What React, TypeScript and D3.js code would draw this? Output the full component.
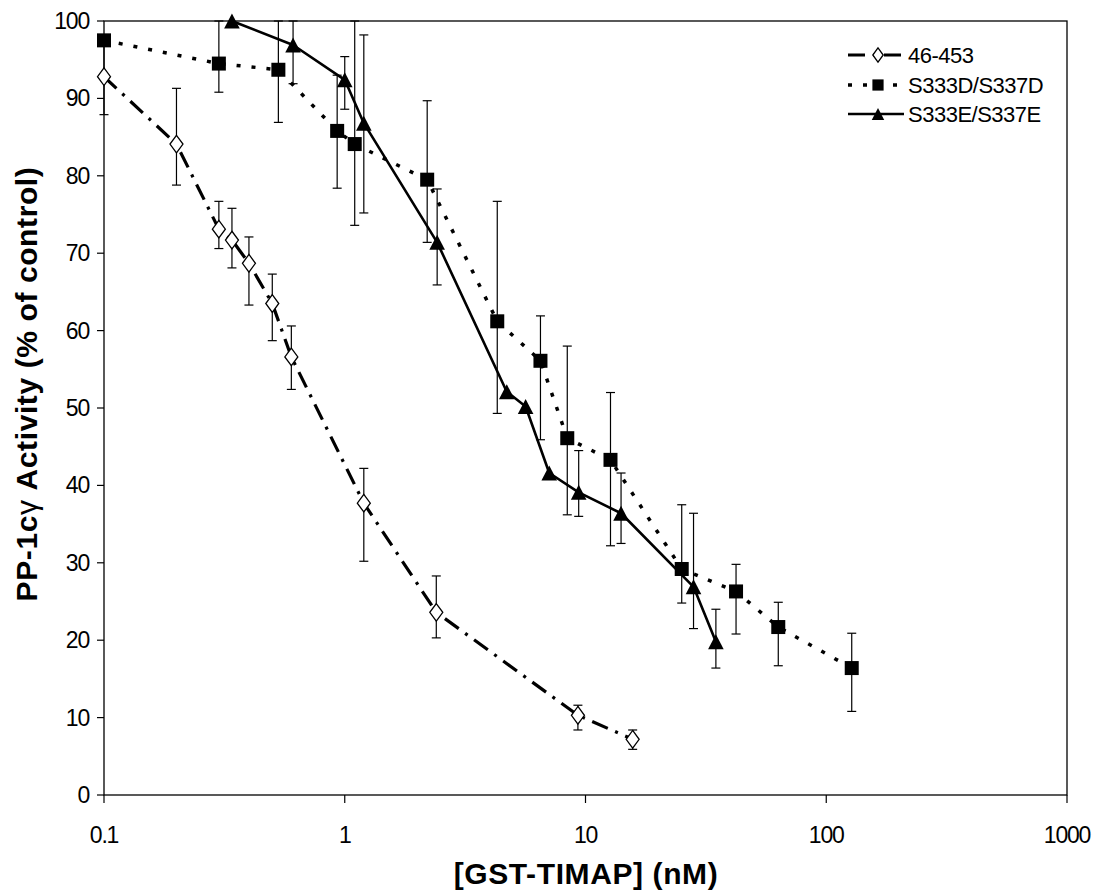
import React from "react";
import * as d3 from "d3";

// ---- data ----
const xTicks = [0.1, 1, 10, 100, 1000];
const xTickLabels = ["0.1", "1", "10", "100", "1000"];
const yTicks = [0, 10, 20, 30, 40, 50, 60, 70, 80, 90, 100];

const seriesNames = ["46-453", "S333D/S337D", "S333E/S337E"];

// 46-453 (open diamonds)
const wtX = [0.1, 0.2, 0.3, 0.34, 0.4, 0.5, 0.6, 1.2, 2.4, 9.3, 15.7];
const wtY = [92.8, 84.1, 73.1, 71.7, 68.7, 63.5, 56.6, 37.7, 23.6, 10.3, 7.2];
const wtHi = [97.7, 91.3, 76.7, 75.8, 72.1, 67.3, 60.6, 42.2, 28.3, 11.6, 8.4];
const wtLo = [87.9, 78.8, 70.6, 68.1, 63.3, 58.7, 52.4, 30.2, 20.3, 8.4, 5.9];

// S333D/S337D (filled squares)
const ddX = [0.1, 0.3, 0.53, 0.93, 1.1, 2.2, 4.3, 6.5, 8.4, 12.7, 25.1, 42.2, 63.2, 127.6];
const ddY = [97.5, 94.5, 93.7, 85.8, 84.1, 79.5, 61.2, 56.1, 46.1, 43.3, 29.2, 26.3, 21.7, 16.4];
const ddHi = [97.5, 100, 100, 93.0, 100, 89.7, 76.7, 61.9, 58.0, 52.0, 37.5, 29.8, 24.9, 20.9];
const ddLo = [97.5, 90.8, 86.9, 78.4, 73.6, 71.4, 49.3, 45.9, 36.2, 32.2, 24.8, 20.8, 16.7, 10.8];

// S333E/S337E (filled triangles)
const eeX = [0.34, 0.61, 1.0, 1.2, 2.42, 4.71, 5.64, 7.07, 9.37, 14.05, 28.1, 34.8];
const eeY = [100, 96.9, 92.4, 86.8, 71.4, 52.1, 50.2, 41.6, 39.1, 36.4, 26.9, 19.8];
const eeHi = [100, 100, 95.4, 98.2, 78.3, 52.1, 50.2, 41.6, 44.5, 41.6, 36.4, 24.0];
const eeLo = [100, 91.9, 88.6, 75.2, 65.9, 52.1, 50.2, 41.6, 36.0, 32.5, 21.5, 16.4];

// ---- layout ----
const W = 1098;
const H = 894;
const left = 104, right = 1067, top = 21, bottom = 795;
const FONT = "'Liberation Sans', Arial, Helvetica, sans-serif";

type Pt = { x: number; y: number; hi: number; lo: number };
const zip = (xs: number[], ys: number[], hi: number[], lo: number[]): Pt[] =>
  xs.map((x, i) => ({ x, y: ys[i], hi: hi[i], lo: lo[i] }));

const series = [
  { name: seriesNames[0], pts: zip(wtX, wtY, wtHi, wtLo), marker: "diamond", dash: "17,8,3,8", width: 3.2 },
  { name: seriesNames[1], pts: zip(ddX, ddY, ddHi, ddLo), marker: "square", dash: "4,11", width: 3.5 },
  { name: seriesNames[2], pts: zip(eeX, eeY, eeHi, eeLo), marker: "triangle", dash: "none", width: 2.6 },
];

function Marker({ type, cx, cy, s = 1 }: { type: string; cx: number; cy: number; s?: number }) {
  if (type === "diamond") {
    const w = 6.5 * s, h = 8.8 * s;
    return (
      <path
        d={`M${cx},${cy - h}L${cx + w},${cy}L${cx},${cy + h}L${cx - w},${cy}Z`}
        fill="#fff"
        stroke="#000"
        strokeWidth={1.3}
      />
    );
  }
  if (type === "square") {
    const a = 7 * s;
    return <rect x={cx - a} y={cy - a} width={2 * a} height={2 * a} fill="#000" />;
  }
  const w = 7.8 * s, h = 7.5 * s;
  return <path d={`M${cx},${cy - h}L${cx + w},${cy + h}L${cx - w},${cy + h}Z`} fill="#000" />;
}

export default function App() {
  const x = d3.scaleLog().domain([0.1, 1000]).range([left, right]);
  const y = d3.scaleLinear().domain([0, 100]).range([bottom, top]);
  const line = d3
    .line<Pt>()
    .x((d) => x(d.x))
    .y((d) => y(d.y));

  const legendRows = [55, 85, 114];

  return (
    <svg
      width={W}
      height={H}
      viewBox={`0 0 ${W} ${H}`}
      style={{ position: "absolute", left: 0, top: 0, background: "#fff" }}
      fontFamily={FONT}
    >
      <rect x={0} y={0} width={W} height={H} fill="#fff" />

      {/* frame */}
      <rect x={left} y={top} width={right - left} height={bottom - top} fill="none" stroke="#000" strokeWidth={1.3} />

      {/* y axis ticks & labels */}
      {yTicks.map((t) => (
        <g key={"y" + t}>
          <line x1={left - 7} x2={left} y1={y(t)} y2={y(t)} stroke="#000" strokeWidth={1.2} />
          <text x={89} y={y(t) + 8} textAnchor="end" fontSize={23} letterSpacing={-1.2} fill="#000">
            {t}
          </text>
        </g>
      ))}

      {/* x axis ticks & labels */}
      {xTicks.map((t, i) => (
        <g key={"x" + t}>
          <line x1={x(t)} x2={x(t)} y1={bottom} y2={bottom + 8} stroke="#000" strokeWidth={1.2} />
          <text x={x(t)} y={843} textAnchor="middle" fontSize={23} letterSpacing={-1.2} fill="#000">
            {xTickLabels[i]}
          </text>
        </g>
      ))}

      {/* axis titles */}
      <text x={586} y={884} textAnchor="middle" fontSize={30} fontWeight="bold" letterSpacing={0.6} fill="#000">
        [GST-TIMAP] (nM)
      </text>
      <text
        transform="translate(37,384) rotate(-90)"
        textAnchor="middle"
        fontSize={30}
        fontWeight="bold"
        letterSpacing={0.6}
        fill="#000"
      >
        PP-1c<tspan fontWeight="normal">γ</tspan> Activity (% of control)
      </text>

      {/* lines */}
      {series.map((s) => (
        <path
          key={"l" + s.name}
          d={line(s.pts) || ""}
          fill="none"
          stroke="#000"
          strokeWidth={s.width}
          strokeDasharray={s.dash}
          strokeLinecap="butt"
          strokeLinejoin="round"
        />
      ))}

      {/* error bars */}
      {series.map((s) =>
        s.pts
          .filter((p) => p.hi - p.lo > 0.01)
          .map((p, i) => (
            <g key={"e" + s.name + i} stroke="#000" strokeWidth={1.2}>
              <line x1={x(p.x)} x2={x(p.x)} y1={y(p.hi)} y2={y(p.lo)} />
              <line x1={x(p.x) - 4.5} x2={x(p.x) + 4.5} y1={y(p.hi)} y2={y(p.hi)} />
              <line x1={x(p.x) - 4.5} x2={x(p.x) + 4.5} y1={y(p.lo)} y2={y(p.lo)} />
            </g>
          ))
      )}

      {/* markers */}
      {series.map((s) =>
        s.pts.map((p, i) => <Marker key={"m" + s.name + i} type={s.marker} cx={x(p.x)} cy={y(p.y)} />)
      )}

      {/* legend */}
      {series.map((s, i) => (
        <g key={"lg" + s.name}>
          <line
            x1={848}
            x2={904}
            y1={legendRows[i]}
            y2={legendRows[i]}
            stroke="#000"
            strokeWidth={s.width}
            strokeDasharray={s.dash}
          />
          <Marker type={s.marker} cx={878} cy={legendRows[i]} s={0.8} />
          <text x={908} y={legendRows[i] + 8} fontSize={22} letterSpacing={-0.5} fill="#000">
            {s.name}
          </text>
        </g>
      ))}
    </svg>
  );
}
